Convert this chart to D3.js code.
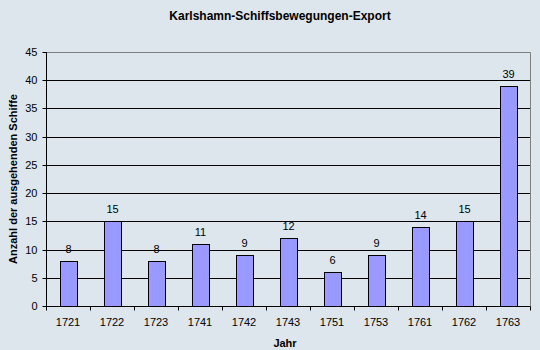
<!DOCTYPE html>
<html lang="de">
<head>
  <meta charset="UTF-8" />
  <title>Karlshamn-Schiffsbewegungen-Export</title>
  <script src="https://d3js.org/d3.v7.min.js"></script>
  <style>
    body { margin: 0; padding: 0; background: #dce6ec; }
    svg { display: block; font-family: Arial, "Liberation Sans", sans-serif; }
    .grid line { stroke: #000; stroke-width: 1; }
    .axis text { font-size: 11px; fill: #000; }
    .axis path, .axis line { stroke: #000; }
    .label { font-size: 11px; fill: #000; }
    .title { font-size: 12px; font-weight: bold; }
    .axtitle { font-size: 11px; font-weight: bold; }
  </style>
</head>
<body>
  <svg width="540" height="350"></svg>
  <script>
    const jahre = ["1721", "1722", "1723", "1741", "1742", "1743", "1751", "1753", "1761", "1762", "1763"];
    const schiffe = [8, 15, 8, 11, 9, 12, 6, 9, 14, 15, 39];
    const yTicks = [0, 5, 10, 15, 20, 25, 30, 35, 40, 45];

    const svg = d3.select("svg");
    const pLeft = 46, pRight = 530, pTop = 52, pBottom = 306;

    svg.append("rect").attr("width", 540).attr("height", 350).attr("fill", "#dce6ec");

    const x = d3.scaleBand().domain(jahre).range([pLeft, pRight]).paddingInner(0.62).paddingOuter(0.31);
    const y = d3.scaleLinear().domain([0, 45]).range([pBottom, pTop]);

    // Gitterlinien
    svg.append("g").attr("class", "grid")
      .selectAll("line").data(yTicks.filter(d => d > 0 && d < 45)).enter()
      .append("line")
      .attr("x1", pLeft).attr("x2", pRight)
      .attr("y1", d => Math.round(y(d)) + 0.5).attr("y2", d => Math.round(y(d)) + 0.5);

    // Rahmen oben/rechts grau
    svg.append("path")
      .attr("d", `M${pLeft},${pTop + 0.5}H${pRight + 0.5}V${pBottom}`)
      .attr("fill", "none").attr("stroke", "#808080");

    // Balken
    svg.selectAll(".bar").data(jahre).enter()
      .append("rect")
      .attr("class", "bar")
      .attr("x", d => Math.round(x(d)) + 0.5)
      .attr("y", (d, i) => Math.round(y(schiffe[i])) + 0.5)
      .attr("width", Math.round(x.bandwidth()))
      .attr("height", (d, i) => Math.round(y(0)) - Math.round(y(schiffe[i])))
      .attr("fill", "#9999ff")
      .attr("stroke", "#000");

    // Werte
    svg.selectAll(".label").data(jahre).enter()
      .append("text")
      .attr("class", "label")
      .attr("x", d => x(d) + x.bandwidth() / 2 + 0.5)
      .attr("y", (d, i) => y(schiffe[i]) - 8)
      .attr("text-anchor", "middle")
      .text((d, i) => schiffe[i]);

    // y-Achse
    const yAxis = svg.append("g").attr("class", "axis")
      .attr("transform", `translate(${pLeft + 0.5},0)`)
      .call(d3.axisLeft(y).tickValues(yTicks).tickSize(4).tickPadding(5));
    yAxis.select(".domain").attr("d", `M0,${pTop}V${pBottom + 0.5}`);
    yAxis.selectAll(".tick").attr("transform", d => `translate(0,${Math.round(y(d)) + 0.5})`);

    // x-Achse
    const xAxis = svg.append("g").attr("class", "axis")
      .attr("transform", `translate(0,${pBottom + 0.5})`)
      .call(d3.axisBottom(x).tickSize(0).tickPadding(12));
    xAxis.select(".domain").attr("d", `M${pLeft},0H${pRight + 0.5}`);
    xAxis.selectAll(".sep").data(d3.range(jahre.length + 1)).enter()
      .append("line")
      .attr("x1", i => Math.round(pLeft + i * (pRight - pLeft) / jahre.length) + 0.5)
      .attr("x2", i => Math.round(pLeft + i * (pRight - pLeft) / jahre.length) + 0.5)
      .attr("y1", 0).attr("y2", 4).attr("stroke", "#000");

    // Titel
    svg.append("text").attr("class", "title")
      .attr("x", 280).attr("y", 20).attr("text-anchor", "middle")
      .text("Karlshamn-Schiffsbewegungen-Export");

    svg.append("text").attr("class", "axtitle")
      .attr("x", 285).attr("y", 347).attr("text-anchor", "middle")
      .text("Jahr");

    svg.append("text").attr("class", "axtitle")
      .attr("transform", "translate(17,179) rotate(-90)")
      .attr("text-anchor", "middle")
      .text("Anzahl der ausgehenden Schiffe");
  </script>
</body>
</html>
